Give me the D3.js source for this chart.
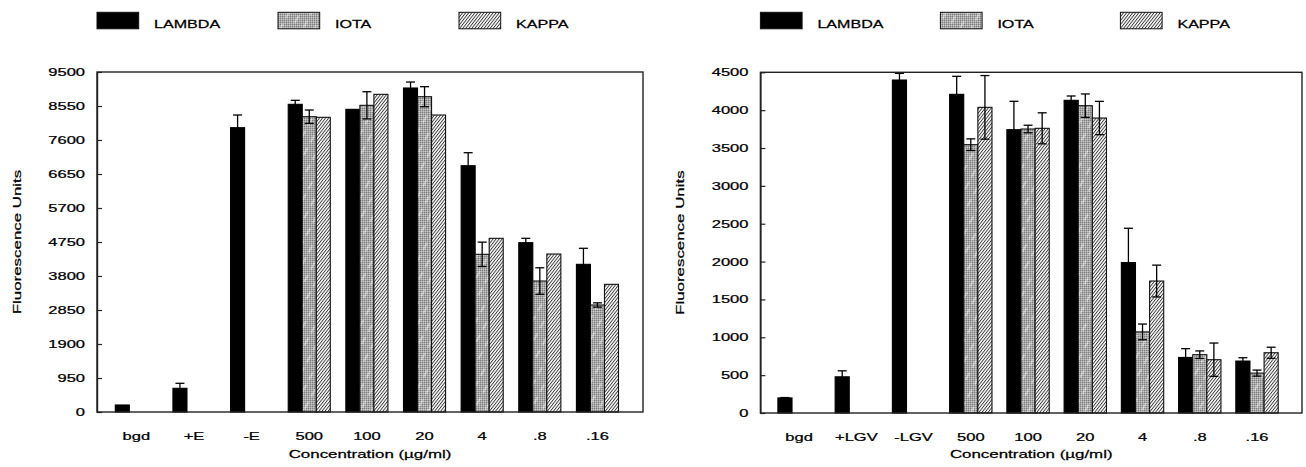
<!DOCTYPE html>
<html>
<head>
<meta charset="utf-8">
<script src="https://cdn.jsdelivr.net/npm/d3@7/dist/d3.min.js"></script>
<style>
  html, body { margin: 0; padding: 0; background: #fff; }
  svg { display: block; }
  text { font-family: "Liberation Sans", Arial, Helvetica, sans-serif; fill: #000; stroke: #000; stroke-width: 0.25px; }
</style>
</head>
<body>
<svg id="chart" width="1306" height="467"></svg>
<script>
// ---------- DATA ----------
const seriesNames = ["LAMBDA", "IOTA", "KAPPA"];

// Left panel
const categoriesA = ["bgd", "+E", "-E", "500", "100", "20", "4", ".8", ".16"];
const lambdaA    = [196, 662, 7944, 8597, 8457, 9053, 6882, 4731, 4126];
const lambdaErrA = [0, 140, 354, 112, 0, 167, 363, 122, 448];
const iotaA      = [null, null, null, 8251, 8569, 8810, 4406, 3660, 2990];
const iotaErrA   = [null, null, null, 187, 380, 280, 340, 370, 60];
const kappaA     = [null, null, null, 8234, 8876, 8298, 4853, 4414, 3567];
const kappaErrA  = [null, null, null, 0, 0, 0, 0, 0, 0];
const yTicksA    = [0, 950, 1900, 2850, 3800, 4750, 5700, 6650, 7600, 8550, 9500];

// Right panel
const categoriesB = ["bgd", "+LGV", "-LGV", "500", "100", "20", "4", ".8", ".16"];
const lambdaB    = [199, 478, 4398, 4209, 3742, 4130, 1987, 734, 686];
const lambdaErrB = [5, 79, 88, 238, 375, 57, 453, 116, 44];
const iotaB      = [null, null, null, 3544, 3751, 4059, 1071, 770, 527];
const iotaErrB   = [null, null, null, 77, 50, 155, 104, 50, 40];
const kappaB     = [null, null, null, 4037, 3760, 3896, 1743, 704, 796];
const kappaErrB  = [null, null, null, 420, 205, 220, 210, 220, 73];
const yTicksB    = [0, 500, 1000, 1500, 2000, 2500, 3000, 3500, 4000, 4500];

const xTitle = "Concentration (\u00b5g/ml)";
const yTitle = "Fluorescence Units";

// ---------- DRAWING ----------
const svg = d3.select("#chart");
const defs = svg.append("defs");

// IOTA: grey dither
const pd = defs.append("pattern").attr("id", "iotaDither")
  .attr("patternUnits", "userSpaceOnUse").attr("width", 2).attr("height", 2);
pd.append("rect").attr("width", 2).attr("height", 2).attr("fill", "#a8a8a8");
pd.append("rect").attr("x", 0).attr("y", 0).attr("width", 1).attr("height", 1).attr("fill", "#7c7c7c");
pd.append("rect").attr("x", 1).attr("y", 1).attr("width", 1).attr("height", 1).attr("fill", "#c8c8c8");
// IOTA: sparse white streaks
const ps = defs.append("pattern").attr("id", "iotaStreak")
  .attr("patternUnits", "userSpaceOnUse").attr("width", 10).attr("height", 14)
  .attr("patternTransform", "rotate(28)");
ps.append("line").attr("x1", 1).attr("y1", 0).attr("x2", 1).attr("y2", 14)
  .attr("stroke", "#fff").attr("stroke-width", 0.9).attr("stroke-dasharray", "8 6").attr("opacity", 0.85);
// KAPPA: dense hatch
const pk = defs.append("pattern").attr("id", "kappaHatch")
  .attr("patternUnits", "userSpaceOnUse").attr("width", 2.4).attr("height", 10)
  .attr("patternTransform", "rotate(38)");
pk.append("rect").attr("width", 2.4).attr("height", 10).attr("fill", "#fff");
pk.append("line").attr("x1", 0.5).attr("y1", 0).attr("x2", 0.5).attr("y2", 10)
  .attr("stroke", "#262626").attr("stroke-width", 0.85);

function stretchedText(parent, x, y, str, size, sx, anchor) {
  return parent.append("text")
    .attr("transform", `translate(${x},${y}) scale(${sx},1)`)
    .attr("text-anchor", anchor || "start")
    .style("font-size", size + "px")
    .text(str);
}

function drawPanel(cfg) {
  const g = svg.append("g");
  const y = d3.scaleLinear().domain([0, cfg.ymax]).range([cfg.bottom, cfg.top]);
  const x = d3.scaleBand().domain(cfg.cats).range([cfg.bandStart, cfg.bandEnd])
    .paddingInner(cfg.padInner).paddingOuter(0);
  const xs = d3.scaleBand().domain(seriesNames).range([0, x.bandwidth()]).padding(0);

  const seriesData = [
    { name: "LAMBDA", vals: cfg.lam, errs: cfg.lamErr },
    { name: "IOTA",   vals: cfg.iota, errs: cfg.iotaErr },
    { name: "KAPPA",  vals: cfg.kappa, errs: cfg.kappaErr }
  ];

  // bars
  seriesData.forEach(s => {
    const data = cfg.cats.map((c, i) => ({ c, v: s.vals[i], e: s.errs[i] })).filter(d => d.v != null);
    const sg = g.append("g");
    const layer = (fill, stroke) => sg.selectAll(null).data(data).enter().append("rect")
      .attr("x", d => x(d.c) + xs(s.name))
      .attr("y", d => y(d.v))
      .attr("width", xs.bandwidth())
      .attr("height", d => y(0) - y(d.v))
      .attr("fill", fill)
      .attr("stroke", stroke || "none")
      .attr("stroke-width", stroke ? 1.1 : 0);
    if (s.name === "LAMBDA") {
      layer("#000", "#000");
    } else if (s.name === "IOTA") {
      layer("url(#iotaDither)");
      layer("url(#iotaStreak)", "#111");
    } else {
      layer("url(#kappaHatch)", "#111");
    }
  });

  // error bars
  seriesData.forEach(s => {
    const data = cfg.cats.map((c, i) => ({ c, v: s.vals[i], e: s.errs[i] }))
      .filter(d => d.v != null && d.e > 0);
    const eg = g.append("g").attr("stroke", "#000").attr("stroke-width", 1.3);
    const cx = d => x(d.c) + xs(s.name) + xs.bandwidth() / 2;
    eg.selectAll(null).data(data).enter().append("line")
      .attr("x1", cx).attr("x2", cx)
      .attr("y1", d => y(Math.max(0, d.v - d.e))).attr("y2", d => y(d.v + d.e));
    eg.selectAll(null).data(data).enter().append("line")
      .attr("x1", d => cx(d) - 4.5).attr("x2", d => cx(d) + 4.5)
      .attr("y1", d => y(d.v + d.e)).attr("y2", d => y(d.v + d.e));
    eg.selectAll(null).data(data.filter(d => s.name !== "LAMBDA")).enter().append("line")
      .attr("x1", d => cx(d) - 4.5).attr("x2", d => cx(d) + 4.5)
      .attr("y1", d => y(Math.max(0, d.v - d.e))).attr("y2", d => y(Math.max(0, d.v - d.e)));
  });

  // frame
  g.append("rect")
    .attr("x", cfg.left).attr("y", cfg.top)
    .attr("width", cfg.right - cfg.left).attr("height", cfg.bottom - cfg.top)
    .attr("fill", "none").attr("stroke", "#222").attr("stroke-width", 1.4);

  // y axis
  const sx = 1.5;
  const ya = g.append("g").attr("transform", `translate(${cfg.left},0)`)
    .call(d3.axisLeft(y).tickValues(cfg.ticks).tickFormat(d3.format("d"))
      .tickSizeInner(-5).tickSizeOuter(0).tickPadding(12));
  ya.select(".domain").attr("stroke", "#222").attr("stroke-width", 1.4);
  ya.selectAll(".tick line").attr("stroke", "#222").attr("stroke-width", 1.2);
  ya.selectAll(".tick text")
    .attr("x", -12 / sx)
    .attr("transform", `scale(${sx},1)`)
    .style("font-size", "11px")
    .style("font-family", "'Liberation Sans', Arial, sans-serif")
    .attr("fill", "#000");

  // x axis (labels only)
  const xa = g.append("g").attr("transform", `translate(0,${cfg.bottom})`)
    .call(d3.axisBottom(x).tickSize(0).tickPadding(0));
  xa.select(".domain").remove();
  xa.selectAll(".tick text")
    .attr("y", 0).attr("dy", 0)
    .attr("transform", `translate(0,27.5) scale(1.5,1)`)
    .style("font-size", "11px")
    .style("font-family", "'Liberation Sans', Arial, sans-serif")
    .attr("fill", "#000");

  // titles
  stretchedText(g, (cfg.left + cfg.right) / 2, 457.7, xTitle, 11.5, 1.47, "middle");
  g.append("text")
    .attr("transform", `translate(${cfg.left - 76},${(cfg.top + cfg.bottom) / 2}) rotate(-90) scale(1.47,1)`)
    .attr("text-anchor", "middle")
    .style("font-size", "11.5px")
    .text(yTitle);

  // legend
  const fills = { LAMBDA: ["#000"], IOTA: ["url(#iotaDither)", "url(#iotaStreak)"], KAPPA: ["url(#kappaHatch)"] };
  seriesNames.forEach((n, i) => {
    const bx = cfg.left + cfg.legendStep * i;
    fills[n].forEach((f, k) => {
      g.append("rect").attr("x", bx).attr("y", 12.3).attr("width", 41.7).attr("height", 16.5)
        .attr("fill", f)
        .attr("stroke", k === fills[n].length - 1 ? "#111" : "none").attr("stroke-width", 1);
    });
    stretchedText(g, bx + 57, 28.3, n, 11.5, 1.4, "start");
  });
}

drawPanel({
  cats: categoriesA, lam: lambdaA, lamErr: lambdaErrA, iota: iotaA, iotaErr: iotaErrA,
  kappa: kappaA, kappaErr: kappaErrA, ticks: yTicksA, ymax: 9500,
  left: 97, right: 643, top: 72, bottom: 412,
  bandStart: 115.3, bandEnd: 618.5, padInner: 0.27, legendStep: 181
});
drawPanel({
  cats: categoriesB, lam: lambdaB, lamErr: lambdaErrB, iota: iotaB, iotaErr: iotaErrB,
  kappa: kappaB, kappaErr: kappaErrB, ticks: yTicksB, ymax: 4500,
  left: 760.4, right: 1302, top: 72.3, bottom: 413,
  bandStart: 777.9, bandEnd: 1278.2, padInner: 0.26, legendStep: 180
});
</script>
</body>
</html>
